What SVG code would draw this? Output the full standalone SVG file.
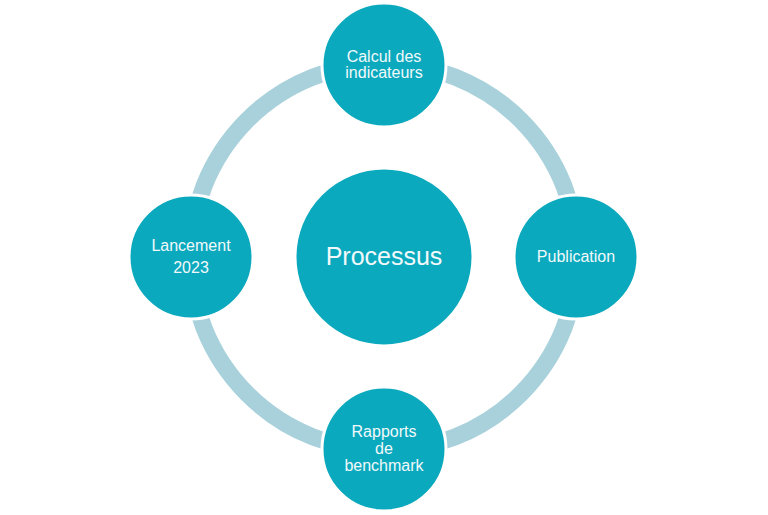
<svg xmlns="http://www.w3.org/2000/svg" width="768" height="515" viewBox="0 0 768 515">
<style>
.node{fill:#0BA9BE;stroke:#ffffff;stroke-width:3}
.lbl{font-family:"Liberation Sans",Arial,sans-serif;font-size:16px;fill:#F2F9FB;text-anchor:middle}
</style>
<rect width="768" height="515" fill="#ffffff"/>
<g id="connectors">
<circle cx="384" cy="257" r="193.5" fill="none" stroke="#A8D1DB" stroke-width="17"/>
</g>
<g id="center">
<circle class="node" cx="384" cy="257" r="89"/>
<text class="lbl" x="384" y="265" style="font-size:25px">Processus</text>
</g>
<g id="top">
<circle class="node" cx="384" cy="65" r="62"/>
<text class="lbl" x="384" y="62">Calcul des</text>
<text class="lbl" x="384" y="78">indicateurs</text>
</g>
<g id="right">
<circle class="node" cx="576" cy="257" r="62"/>
<text class="lbl" x="576" y="262">Publication</text>
</g>
<g id="bottom">
<circle class="node" cx="384" cy="449" r="62"/>
<text class="lbl" x="384" y="437">Rapports</text>
<text class="lbl" x="384" y="454">de</text>
<text class="lbl" x="384" y="471">benchmark</text>
</g>
<g id="left">
<circle class="node" cx="191" cy="257" r="62"/>
<text class="lbl" x="191" y="251">Lancement</text>
<text class="lbl" x="191" y="273">2023</text>
</g>
</svg>
